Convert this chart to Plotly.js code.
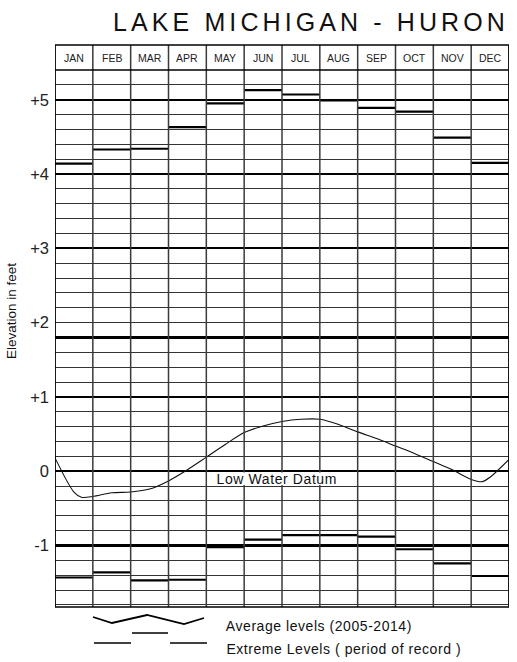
<!DOCTYPE html>
<html><head><meta charset="utf-8">
<script src="https://cdn.plot.ly/plotly-3.0.1.min.js"></script>
<style>
html,body{margin:0;padding:0;background:#fff;}
#chart{width:517px;height:662px;}
.gtitle{letter-spacing:4.1px;}
</style></head><body><div id="chart"></div>
<script>
// ---- data ----
const months = ['JAN','FEB','MAR','APR','MAY','JUN','JUL','AUG','SEP','OCT','NOV','DEC'];
const highLevels = [4.14, 4.33, 4.34, 4.63, 4.95, 5.13, 5.07, 4.99, 4.89, 4.84, 4.49, 4.15];
const lowLevels  = [-1.43, -1.36, -1.47, -1.46, -1.02, -0.92, -0.86, -0.86, -0.88, -1.05, -1.24, -1.41];
const avgMonthPos = [0, 0.5, 0.7, 1, 1.5, 2, 2.5, 3, 3.5, 4, 4.5, 5, 5.5, 6, 6.5, 7, 7.5, 8, 8.5, 9, 9.5, 10, 10.5, 11, 11.3, 11.5, 12];
const avgLevels   = [0.18, -0.28, -0.35, -0.34, -0.29, -0.28, -0.24, -0.13, 0.02, 0.19, 0.36, 0.52, 0.61, 0.67, 0.70, 0.70, 0.63, 0.53, 0.44, 0.34, 0.24, 0.13, 0.02, -0.11, -0.14, -0.08, 0.16];
const yTickVals = [-1, 0, 1, 2, 3, 4, 5];
const yTickText = ['-1', '0', '+1', '+2', '+3', '+4', '+5'];
const heavyLines = [-1, 0, 1, 1.8, 3, 4, 5];
const titleText = 'LAKE MICHIGAN - HURON';
const datumText = 'Low Water Datum';
const legendAvgText = 'Average levels (2005-2014)';
const legendExtText = 'Extreme Levels ( period of record )';
const yTitleText = 'Elevation in feet';

// ---- geometry ----
const W = 517, H = 662, L = 55, R = 8, T = 70, B = 55;
const pw = W - L - R, ph = H - T - B;
const px = x => (x - L) / pw;
const py = y => (H - B - y) / ph;
const headerTop = py(45);
const yRange = [-1.827, 5.4];
const FONT = 'Liberation Sans, Arial, sans-serif';

// ---- traces ----
const ex = [], ehy = [], ely = [];
months.forEach((m, i) => {
  ex.push(i, i + 1, null);
  ehy.push(highLevels[i], highLevels[i], null);
  ely.push(lowLevels[i], lowLevels[i], null);
});
const traces = [
  {x: avgMonthPos, y: avgLevels, mode: 'lines', line: {color: '#111', width: 1.1, shape: 'spline', smoothing: 0.8}, hoverinfo: 'skip', showlegend: false},
  {x: ex, y: ehy, yaxis: 'y2', mode: 'lines', line: {color: '#000', width: 2.2}, hoverinfo: 'skip', showlegend: false, connectgaps: false},
  {x: ex, y: ely, yaxis: 'y2', mode: 'lines', line: {color: '#000', width: 2.2}, hoverinfo: 'skip', showlegend: false, connectgaps: false}
];

// ---- shapes ----
const shapes = [];
for (let i = 0; i <= months.length; i++) {
  const edge = (i === 0 || i === months.length);
  shapes.push({type: 'line', xref: 'x', yref: 'paper', x0: i, x1: i, y0: 0, y1: headerTop,
    line: {color: edge ? '#000' : '#3a3a3a', width: edge ? 1.8 : 1.5}, layer: 'above'});
}
shapes.push({type: 'line', xref: 'x', yref: 'paper', x0: 0, x1: 12, y0: headerTop, y1: headerTop, line: {color: '#000', width: 1.5}, layer: 'above'});
shapes.push({type: 'line', xref: 'x', yref: 'paper', x0: 0, x1: 12, y0: 1, y1: 1, line: {color: '#000', width: 1.5}, layer: 'above'});
shapes.push({type: 'line', xref: 'x', yref: 'paper', x0: 0, x1: 12, y0: 0, y1: 0, line: {color: '#000', width: 1.5}, layer: 'above'});
// gap in vertical lines behind the datum label
shapes.push({type: 'rect', xref: 'x', yref: 'y', x0: 4.03, x1: 7.97, y0: -0.185, y1: -0.018, fillcolor: '#fff', line: {width: 0}, layer: 'above'});
// legend glyphs
const zig = [[93,617],[112,623],[147,615],[184,624],[204,618]];
shapes.push({type: 'path', xref: 'paper', yref: 'paper',
  path: zig.map((p, k) => (k ? 'L' : 'M') + px(p[0]) + ',' + py(p[1])).join(' '),
  line: {color: '#000', width: 1.8}});
[[132,168,633],[94,131,643],[170,207,643]].forEach(s => {
  shapes.push({type: 'line', xref: 'paper', yref: 'paper', x0: px(s[0]), x1: px(s[1]), y0: py(s[2]), y1: py(s[2]), line: {color: '#000', width: 1.6}});
});

// ---- annotations ----
const annotations = months.map((m, i) => ({
  text: m, x: i + 0.5, xref: 'x', y: py(58), yref: 'paper', showarrow: false,
  font: {family: FONT, size: 10.5, color: '#222'}, xanchor: 'center', yanchor: 'middle'
}));
annotations.push({text: datumText, x: 5.87, xref: 'x', y: -0.105, yref: 'y', showarrow: false,
  font: {family: FONT, size: 14, color: '#111'}, xanchor: 'center', yanchor: 'middle'});
annotations.push({text: legendAvgText, x: px(231), xref: 'paper', y: py(626), yref: 'paper', showarrow: false,
  font: {family: FONT, size: 14, color: '#111'}, xanchor: 'left', yanchor: 'middle'});
annotations.push({text: legendExtText, x: px(234), xref: 'paper', y: py(649), yref: 'paper', showarrow: false,
  font: {family: FONT, size: 14, color: '#111'}, xanchor: 'left', yanchor: 'middle'});
annotations.push({text: yTitleText, x: px(11), xref: 'paper', y: py(311), yref: 'paper', showarrow: false, textangle: -90,
  font: {family: FONT, size: 13.5, color: '#111'}, xanchor: 'center', yanchor: 'middle'});

const layout = {
  width: W, height: H,
  margin: {l: L, r: R, t: T, b: B, pad: 0},
  paper_bgcolor: '#fff', plot_bgcolor: '#fff',
  showlegend: false,
  title: {text: titleText, font: {family: FONT, size: 25, color: '#111'},
    x: px(311), xref: 'paper', xanchor: 'center', y: 1 - 22 / H, yref: 'container', yanchor: 'middle'},
  xaxis: {range: [0, 12], showgrid: false, zeroline: false, showticklabels: false, ticks: '', showline: false, fixedrange: true},
  yaxis: {range: yRange, tickvals: yTickVals, ticktext: yTickText, ticks: '', ticklabelstandoff: 5,
    tickfont: {family: FONT, size: 16.5, color: '#222'},
    showgrid: true, gridcolor: '#333', gridwidth: 1, zeroline: false, showline: false, fixedrange: true,
    minor: {tick0: 0, dtick: 0.2, showgrid: true, gridcolor: '#333', gridwidth: 1, ticks: ''}},
  yaxis2: {range: yRange, overlaying: 'y', side: 'left', tickvals: heavyLines, showticklabels: false, ticks: '',
    showgrid: true, gridcolor: '#000', gridwidth: 2.2, zeroline: false, showline: false, fixedrange: true},
  shapes: shapes,
  annotations: annotations
};

Plotly.newPlot('chart', traces, layout, {displayModeBar: false, staticPlot: true}).then(gd => {
  const spacing = {};
  spacing[datumText] = '0.6px';
  spacing[legendAvgText] = '0.55px';
  spacing[legendExtText] = '0.55px';
  gd.querySelectorAll('.annotation-text').forEach(t => {
    const s = spacing[t.textContent];
    if (s) t.style.letterSpacing = s;
  });
});
</script></body></html>
